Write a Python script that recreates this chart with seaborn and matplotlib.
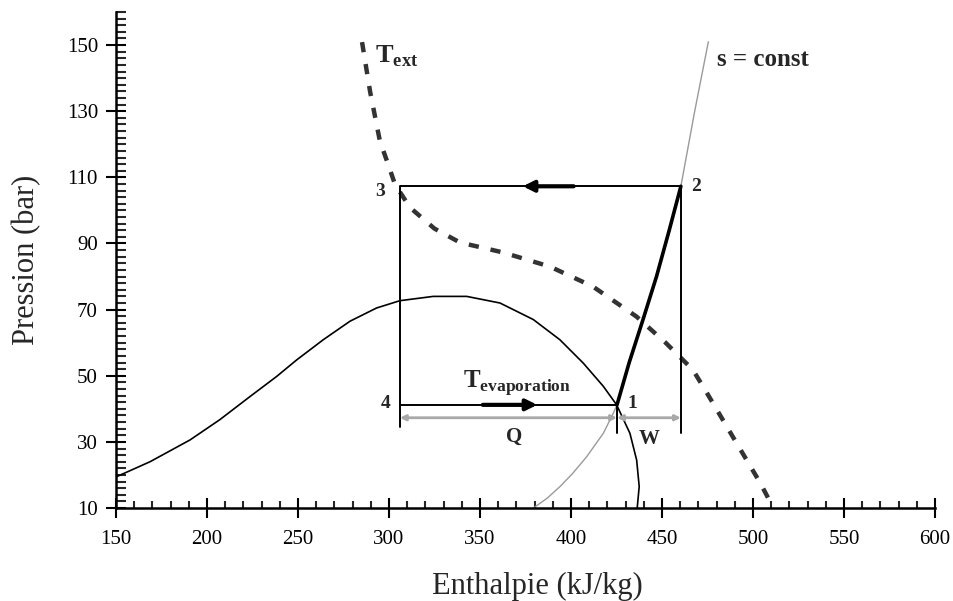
import matplotlib
matplotlib.use("Agg")
import matplotlib.pyplot as plt
import seaborn as sns
from matplotlib.ticker import MultipleLocator

# ---- data ----
dome_h = [150.4, 168.7, 190.7, 207, 223.6, 238.3, 249.3, 263.9, 278.6, 293.2, 306, 324.3, 342.7,
          361, 379.3, 393.9, 406.8, 417.8, 425.1, 432.4, 436.1, 437.5, 436.4]
dome_p = [19.5, 24, 30.6, 36.7, 43.7, 49.8, 54.8, 60.9, 66.5, 70.5, 72.7, 74, 74,
          72, 67, 60.9, 53.8, 46.8, 41.2, 32.6, 24.5, 16.5, 10]

isen_h = [379.3, 387, 394, 401, 408.6, 417.8, 423.3, 425.3, 432, 439.6, 447, 454, 460.4, 468, 475.5]
isen_p = [10, 13, 16.5, 20.5, 25.5, 32.6, 38.7, 41.2, 54, 67, 80, 94, 107.3, 130, 151]

comp_h = [425.3, 432, 439.6, 447, 454, 460.4]
comp_p = [41.2, 54, 67, 80, 94, 107.3]

text_h = [285.2, 289.6, 295, 299.5, 303.3, 311.5, 325, 339, 362.6, 388.5, 412, 436, 452, 467,
          474.7, 489, 504, 510.4]
text_p = [150.9, 136, 121, 114, 107.9, 100.9, 94.5, 90.3, 87.3, 83, 77, 67.9, 60, 51.8,
          44.8, 31.5, 17.6, 10.9]

cycle_h = [425.3, 460.4, 306, 306, 425.3]
cycle_p = [41.2, 107.3, 107.3, 41.2, 41.2]

point_labels = ["1", "2", "3", "4"]
point_h = [433.5, 469, 295, 298]
point_p = [41.5, 107.3, 105.8, 41.5]

# ---- style ----
sns.set_style("ticks")
plt.rcParams["font.family"] = ["Liberation Serif", "DejaVu Serif"]
plt.rcParams["mathtext.fontset"] = "custom"
plt.rcParams["mathtext.rm"] = "Liberation Serif"
plt.rcParams["mathtext.bf"] = "Liberation Serif:bold"

fig = plt.figure(figsize=(9.54, 6.01), dpi=100)
ax = fig.add_axes([0.1216, 0.1547, 0.8584, 0.8253])

sns.lineplot(x=dome_h, y=dome_p, sort=False, estimator=None, color="black", lw=1.2, ax=ax)
sns.lineplot(x=isen_h, y=isen_p, sort=False, estimator=None, color="#9a9a9a", lw=1.0, ax=ax)
sns.lineplot(x=text_h, y=text_p, sort=False, estimator=None, color="#333333", lw=3.2,
             linestyle=(0, (2.3, 2.7)), ax=ax)
# cycle (rectangle part)
sns.lineplot(x=cycle_h[1:4], y=cycle_p[1:4], sort=False, estimator=None, color="black", lw=1.4, ax=ax)
sns.lineplot(x=cycle_h[3:5], y=cycle_p[3:5], sort=False, estimator=None, color="black", lw=1.4, ax=ax)
sns.lineplot(x=comp_h, y=comp_p, sort=False, estimator=None, color="black", lw=2.6, ax=ax)
# right vertical of rectangle and tick lines
ax.plot([460.4, 460.4], [107.3, 32.7], color="black", lw=1.4)
ax.plot([306, 306], [41.2, 34.5], color="black", lw=1.4)
ax.plot([425.3, 425.3], [41.2, 32.7], color="black", lw=1.4)

# flow arrows
ax.annotate("", xy=(372, 107.3), xytext=(403, 107.3),
            arrowprops=dict(arrowstyle="-|>", color="black", lw=3, mutation_scale=16))
ax.annotate("", xy=(383, 41.2), xytext=(350, 41.2),
            arrowprops=dict(arrowstyle="-|>", color="black", lw=3, mutation_scale=16))

# dimension arrows
ax.annotate("", xy=(306, 37.3), xytext=(425.3, 37.3),
            arrowprops=dict(arrowstyle="<|-|>", color="#a8a8a8", lw=2, mutation_scale=8,
                            shrinkA=0, shrinkB=0))
ax.annotate("", xy=(425.3, 37.3), xytext=(460.4, 37.3),
            arrowprops=dict(arrowstyle="<|-|>", color="#a8a8a8", lw=2, mutation_scale=8,
                            shrinkA=0, shrinkB=0))

for lab, h, p in zip(point_labels, point_h, point_p):
    ax.text(h, p, lab, fontsize=14, fontweight="bold", ha="center", va="center")

ax.text(369, 31.6, "Q", fontsize=15, fontweight="bold", ha="center", va="center")
ax.text(443, 31.0, "W", fontsize=15, fontweight="bold", ha="center", va="center")
ax.text(292.3, 144.8, r"$\mathbf{T}_{\mathbf{ext}}$", fontsize=19, ha="left", va="baseline")
ax.text(480, 143.7, "s = const", fontsize=18, fontweight="bold", ha="left", va="baseline")
ax.text(340.7, 46.4, r"$\mathbf{T}_{\mathbf{evaporation}}$", fontsize=18, ha="left", va="baseline")

ax.set_xlim(150, 600)
ax.set_ylim(10, 160)
ax.xaxis.set_major_locator(MultipleLocator(50))
ax.xaxis.set_minor_locator(MultipleLocator(10))
ax.set_yticks(list(range(10, 151, 20)))
ax.yaxis.set_minor_locator(MultipleLocator(2))
ax.tick_params(axis="both", which="major", direction="inout", length=14, width=1.5,
               labelsize=15, colors="black")
ax.tick_params(axis="x", which="minor", direction="in", length=5, width=1.5)
ax.tick_params(axis="y", which="minor", direction="in", length=7, width=1.5)
ax.tick_params(axis="x", which="major", pad=9)
ax.tick_params(axis="y", which="major", pad=6)
for side in ["top", "right"]:
    ax.spines[side].set_visible(False)
for side in ["left", "bottom"]:
    ax.spines[side].set_linewidth(1.8)
    ax.spines[side].set_color("black")

ax.set_xlabel("Enthalpie (kJ/kg)", fontsize=22, labelpad=16)
ax.set_ylabel("Pression (bar)", fontsize=22, labelpad=18)
ax.xaxis.label.set_x(0.515)

fig.savefig("out.png", dpi=100)
